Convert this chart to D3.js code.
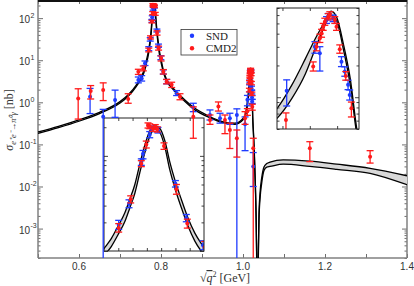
<!DOCTYPE html>
<meta charset="utf-8">
<style>
  body {
    margin: 0;
    background: #fff;
  }

  .serif {
    font-family: "Liberation Serif", "Times New Roman", serif;
  }
</style>

<body>

  <script src="https://d3js.org/d3.v7.min.js"></script>

  <script>

    // theory band: energy (GeV), lower and upper edge (nb)
    var bandE = [0.50, 0.55, 0.60, 0.65, 0.70, 0.72, 0.74, 0.75, 0.76,
      0.7655, 0.7676, 0.7699, 0.7723, 0.774, 0.7758, 0.7775, 0.7793, 0.781, 0.7828,
      0.7845, 0.7863, 0.788, 0.7898, 0.7921, 0.7944, 0.7968, 0.7997,
      0.806, 0.814, 0.826, 0.838, 0.85, 0.88, 0.92, 0.95, 0.98, 1.0, 1.005,
      1.009, 1.0117, 1.0142, 1.016, 1.0175, 1.0189, 1.0199, 1.0212, 1.0224, 1.0236,
      1.0255, 1.028, 1.03, 1.032, 1.0334, 1.0354, 1.0373, 1.039, 1.0415, 1.0456,
      1.0512, 1.058, 1.066, 1.098, 1.163, 1.2285, 1.31, 1.4];
    var bandLo = [0.183, 0.25, 0.355, 0.54, 0.96, 1.39, 2.4, 3.4, 5.6,
      9.3, 11.2, 14.8, 20.4, 28.2, 40.5, 66, 108, 160, 194,
      177, 124, 72, 46, 28.4, 18.3, 12.7, 9.3,
      5.1, 3.15, 2.2, 1.63, 1.25, 0.69, 0.425, 0.33, 0.30, 0.385, 0.46,
      0.63, 0.97, 1.67, 2.88, 4.46, 5.97, 5.3, 2.75, 1.3, 0.44,
      0.17, 0.044, 0.0105, 0.0017, 0.00017, 0.00001, 0.00017, 0.0016, 0.005, 0.012,
      0.024, 0.029, 0.030, 0.034, 0.030, 0.0256, 0.0206, 0.011];
    var bandHi = [0.197, 0.27, 0.385, 0.58, 1.04, 1.51, 2.6, 3.8, 6.4,
      11.1, 13.6, 18.2, 25.2, 34.8, 50, 81, 130, 182, 208,
      195, 144, 87, 56, 34.6, 22.2, 15.4, 11.2,
      5.7, 3.45, 2.4, 1.77, 1.35, 0.75, 0.455, 0.35, 0.32, 0.415, 0.5,
      0.78, 1.30, 2.32, 3.58, 4.97, 6.52, 5.75, 3.1, 1.5, 0.5,
      0.2, 0.052, 0.013, 0.0021, 0.00021, 0.00001, 0.00022, 0.0023, 0.007, 0.016,
      0.029, 0.035, 0.038, 0.043, 0.040, 0.034, 0.027, 0.018];

    // SND points: energy, value, error bar low / high
    var sndE = [0.627, 0.659, 0.688, 0.7447, 0.7529, 0.761, 0.77014, 0.77375, 0.77806, 0.77865,
      0.781, 0.78156, 0.7839, 0.79, 0.7938, 0.79965, 0.8057, 0.8139, 0.838, 0.8788,
      0.9195, 0.944, 0.968, 0.985, 1.005, 1.01077, 1.01593, 1.01684, 1.01806, 1.01837,
      1.01926, 1.02079, 1.0214, 1.022, 1.0223, 1.025];
    var sndV = [1.36, 0.455, 1.13, 3.4, 3.7, 8.5, 18.9, 31.4, 86, 105,
      167, 193, 186, 51, 22.2, 11.5, 5.3, 3.1, 1.65, 0.76,
      0.5, 0.42, 0.42, 0.5, 0.3, 1.15, 3.01, 2.61, 5.38, 5.79,
      5.59, 2.17, 1.75, 1.31, 1.05, 0.0297];
    var sndLo = [0.54, 1e-6, 0.44, 2.9, 3.2, 7.5, 16.9, 28.5, 79.5, 93,
      155, 180, 174, 47, 20.3, 10.3, 4.7, 2.75, 1.45, 0.6,
      0.38, 0.32, 0.3, 1e-6, 0.071, 0.826, 2.61, 1.77, 5.0, 5.4,
      5.2, 1.95, 1.58, 1.18, 0.94, 0.01];
    var sndHi = [2.14, 0.68, 1.95, 4.0, 4.3, 9.6, 21.0, 34.5, 93, 114,
      180, 206, 199, 55, 24.2, 12.8, 5.9, 3.5, 1.9, 0.95,
      0.66, 0.55, 0.55, 0.7, 0.45, 1.46, 3.36, 3.01, 5.8, 6.2,
      6.0, 2.42, 1.94, 1.45, 1.17, 0.064];

    // CMD2 points
    var cmdE = [0.598, 0.6285, 0.659, 0.72, 0.7447, 0.7568, 0.77014, 0.77434, 0.77806, 0.7798,
      0.7804, 0.781, 0.78215, 0.78296, 0.78366, 0.786, 0.79035, 0.79416, 0.80025, 0.8057,
      0.8139, 0.826, 0.8463, 0.8788, 0.9195, 0.94, 0.956, 0.968, 0.985, 1.005,
      1.01064, 1.01562, 1.01623, 1.01684, 1.01715, 1.01745, 1.01775, 1.01837, 1.01866, 1.01957,
      1.01988, 1.02048, 1.02158, 1.02261, 1.025, 1.163, 1.31];
    var cmdV = [1.24, 1.86, 1.96, 1.2, 5.3, 6.4, 17.5, 34.9, 82.8, 132,
      209, 205, 193, 201, 190, 127, 44.6, 19.4, 11, 5.3,
      3.1, 2.6, 1.36, 0.455, 0.38, 0.8, 0.38, 0.22, 0.14, 0.42,
      0.61, 1.95, 3.01, 3.61, 4.03, 4.65, 5.19, 5.79, 6.01, 5.38,
      4.65, 2.84, 1.59, 0.785, 0.081, 0.081, 0.051];
    var cmdLo = [0.40, 1.2, 1.1, 0.95, 4.6, 5.6, 15.8, 32, 77, 121,
      196, 193, 181, 189, 178, 117, 39.5, 17.4, 9.6, 4.7,
      2.75, 2.25, 1.15, 0.14, 0.3, 0.62, 0.18, 0.08, 0.05, 0.3,
      0.49, 1.77, 2.75, 3.3, 3.7, 4.3, 4.8, 5.4, 5.6, 5.0,
      4.3, 2.61, 1.45, 0.65, 1e-6, 0.039, 0.036];
    var cmdHi = [2.1, 2.5, 2.9, 1.6, 6.1, 7.3, 19.4, 38, 89, 143,
      222, 217, 205, 213, 202, 137, 50, 21.6, 12.6, 6.0,
      3.5, 3.0, 1.6, 0.78, 0.5, 1.02, 0.5, 0.32, 0.22, 0.6,
      0.71, 2.16, 3.3, 3.95, 4.4, 5.0, 5.6, 6.2, 6.45, 5.8,
      5.0, 3.13, 1.75, 0.90, 0.14, 0.116, 0.071];

    // ticks
    var xTicks = [0.5, 0.6, 0.7, 0.8, 0.9, 1.0, 1.1, 1.2, 1.3, 1.4];
    var xLabels = ["0.6", "0.8", "1.0", "1.2", "1.4"];
    var yExp = [-3, -2, -1, 0, 1, 2];
    var inset1XTicks = [0.77, 0.775, 0.78, 0.785, 0.79, 0.795];
    var inset2XTicks = [1.01, 1.015, 1.02];

    var width = 414, height = 286;

    var svg = d3.select("body")
      .append("svg")
      .attr("width", width)
      .attr("height", height);
    var defs = svg.append("defs");

    var x = d3.scaleLinear().domain([0.5, 1.4]).range([38, 407]);
    var y = d3.scaleLog().domain([2e-4, 270]).range([258, 0]);

    // all 1..9 x 10^n values inside a log domain
    function logTicks(dom, major) {
      var out = [];
      for (var n = -5; n <= 3; n++) {
        for (var k = 1; k <= 9; k++) {
          var v = k * Math.pow(10, n);
          if (v >= dom[0] * 0.999 && v <= dom[1] * 1.001 && ((k === 1) === major)) out.push(v);
        }
      }
      return out;
    }

    function frame(g, xs, ys, xt, majLen, minLen, col) {
      var r = xs.range(), h = ys.range();
      var yMaj = logTicks(ys.domain(), true), yMin = logTicks(ys.domain(), false);
      g.append("g").attr("transform", "translate(0," + h[0] + ")").attr("color", col)
        .call(d3.axisBottom(xs).tickValues(xt).tickSize(-majLen + 1).tickFormat(""))
        .select(".domain").remove();
      g.append("g").attr("transform", "translate(0," + h[1] + ")").attr("color", col)
        .call(d3.axisTop(xs).tickValues(xt).tickSize(-majLen + 1).tickFormat(""))
        .select(".domain").remove();
      [[yMaj, majLen], [yMin, minLen]].forEach(function (t) {
        g.append("g").attr("transform", "translate(" + r[0] + ",0)").attr("color", col)
          .call(d3.axisLeft(ys).tickValues(t[0]).tickSize(-t[1]).tickFormat(""))
          .select(".domain").remove();
        g.append("g").attr("transform", "translate(" + r[1] + ",0)").attr("color", col)
          .call(d3.axisRight(ys).tickValues(t[0]).tickSize(-t[1]).tickFormat(""))
          .select(".domain").remove();
      });
    }

    function clipped(g, xs, ys, id) {
      var r = xs.range(), h = ys.range();
      defs.append("clipPath").attr("id", id)
        .append("rect")
        .attr("x", r[0]).attr("y", h[1])
        .attr("width", r[1] - r[0]).attr("height", h[0] - h[1]);
      return g.append("g").attr("clip-path", "url(#" + id + ")");
    }

    function drawBand(g, xs, ys) {
      var pts = bandE.map(function (e, i) { return { e: e, lo: bandLo[i], hi: bandHi[i] }; });
      g.append("path").datum(pts)
        .attr("fill", "#d8d8d8")
        .attr("d", d3.area().curve(d3.curveMonotoneX)
          .x(function (d) { return xs(d.e); })
          .y0(function (d) { return ys(d.lo); })
          .y1(function (d) { return ys(d.hi); }));
      ["lo", "hi"].forEach(function (k) {
        g.append("path").datum(pts)
          .attr("fill", "none")
          .attr("stroke", "#000")
          .attr("stroke-width", 1.3)
          .attr("d", d3.line().curve(d3.curveMonotoneX)
            .x(function (d) { return xs(d.e); })
            .y(function (d) { return ys(d[k]); }));
      });
    }

    function drawPoints(g, xs, ys, E, V, Lo, Hi, color) {
      var pts = E.map(function (e, i) { return { e: e, v: V[i], lo: Lo[i], hi: Hi[i] }; });
      var p = g.append("g").selectAll("g").data(pts).enter().append("g")
        .attr("stroke", color).attr("stroke-width", 1.3).attr("fill", color);
      p.append("line")
        .attr("x1", function (d) { return xs(d.e); })
        .attr("x2", function (d) { return xs(d.e); })
        .attr("y1", function (d) { return ys(d.lo); })
        .attr("y2", function (d) { return ys(d.hi); });
      ["lo", "hi"].forEach(function (k) {
        p.append("line")
          .attr("x1", function (d) { return xs(d.e) - 3.5; })
          .attr("x2", function (d) { return xs(d.e) + 3.5; })
          .attr("y1", function (d) { return ys(d[k]); })
          .attr("y2", function (d) { return ys(d[k]); });
      });
      p.append("circle")
        .attr("cx", function (d) { return xs(d.e); })
        .attr("cy", function (d) { return ys(d.v); })
        .attr("r", 2).attr("stroke", "none");
    }

    function content(g, xs, ys) {
      drawBand(g, xs, ys);
      drawPoints(g, xs, ys, sndE, sndV, sndLo, sndHi, "#1f3bff");
      drawPoints(g, xs, ys, cmdE, cmdV, cmdLo, cmdHi, "#ff1a1a");
    }

    // main frame and axes
    frame(svg, x, y, xTicks, 5, 2.5, "#6e6e6e");
    svg.append("line").attr("x1", 38).attr("x2", 38).attr("y1", 0).attr("y2", 258)
      .attr("stroke", "#808080").attr("stroke-width", 1.5);
    svg.append("line").attr("x1", 407).attr("x2", 407).attr("y1", 0).attr("y2", 258)
      .attr("stroke", "#808080").attr("stroke-width", 1.5);
    svg.append("line").attr("x1", 38).attr("x2", 407).attr("y1", 258).attr("y2", 258)
      .attr("stroke", "#808080").attr("stroke-width", 1.5);
    svg.append("line").attr("x1", 38).attr("x2", 407).attr("y1", 1).attr("y2", 1)
      .attr("stroke", "#111").attr("stroke-width", 2);

    // x tick labels
    svg.append("g").selectAll("text").data(xLabels).enter().append("text")
      .attr("x", function (d) { return x(+d); })
      .attr("y", 269.5)
      .attr("text-anchor", "middle")
      .style("font", "10px 'Liberation Sans', Arial, sans-serif")
      .style("fill", "#333")
      .text(function (d) { return d; });

    // y tick labels 10^n
    svg.append("g").selectAll("text").data(yExp).enter().append("text")
      .attr("x", 30)
      .attr("y", function (d) { return y(Math.pow(10, d)) + 5; })
      .attr("text-anchor", "end")
      .style("font", "10px 'Liberation Sans', Arial, sans-serif")
      .style("fill", "#333")
      .text("10");
    svg.append("g").selectAll("text").data(yExp).enter().append("text")
      .attr("x", 30.5)
      .attr("y", function (d) { return y(Math.pow(10, d)) - 0.5; })
      .style("font", "7px 'Liberation Sans', Arial, sans-serif")
      .style("fill", "#333")
      .text(function (d) { return d; });

    // axis titles
    var xt = svg.append("text").attr("class", "serif")
      .attr("x", 225).attr("y", 282)
      .attr("text-anchor", "middle")
      .style("font-size", "12px").style("fill", "#333");
    xt.append("tspan").text("√");
    xt.append("tspan").style("font-style", "italic").style("text-decoration", "overline").text("q");
    xt.append("tspan").attr("dy", -5).style("font-size", "8px").text("2");
    xt.append("tspan").attr("dy", 5).text(" [GeV]");

    var yt = svg.append("text").attr("class", "serif")
      .attr("transform", "translate(13,120) rotate(-90)")
      .attr("text-anchor", "middle")
      .style("font-size", "12px").style("fill", "#333");
    yt.append("tspan").style("font-style", "italic").text("σ");
    yt.append("tspan").attr("dy", 3).style("font-size", "8.5px").style("font-style", "italic").text("e⁺e⁻→π⁰γ");
    yt.append("tspan").attr("dy", -3).text(" [nb]");

    // inset around the omega peak
    var x1 = d3.scaleLinear().domain([0.765, 0.80]).range([104, 204]);
    var y1 = d3.scaleLog().domain([10, 250]).range([251, 118]);
    // inset around the phi peak
    var x2 = d3.scaleLinear().domain([1.009, 1.024]).range([277, 359]);
    var y2 = d3.scaleLog().domain([0.5, 7]).range([129, 8]);

    [[x1, y1, inset1XTicks, "c1"], [x2, y2, inset2XTicks, "c2"]].forEach(function (s) {
      var r = s[0].range(), h = s[1].range();
      var g = svg.append("g");
      g.append("rect")
        .attr("x", r[0]).attr("y", h[1])
        .attr("width", r[1] - r[0]).attr("height", h[0] - h[1])
        .attr("fill", "#fff");
      content(clipped(g, s[0], s[1], s[3]), s[0], s[1]);
      frame(g, s[0], s[1], s[2], 4, 2.5, "#444");
      g.append("rect")
        .attr("x", r[0]).attr("y", h[1])
        .attr("width", r[1] - r[0]).attr("height", h[0] - h[1])
        .attr("fill", "none").attr("stroke", "#222").attr("stroke-width", 1);
    });

    // main curve and data, drawn over the insets
    content(clipped(svg.append("g"), x, y, "c0"), x, y);

    // legend
    var lg = svg.append("g");
    lg.append("rect").attr("x", 181).attr("y", 29.5).attr("width", 56).attr("height", 25.5)
      .attr("fill", "#fff").attr("stroke", "#333").attr("stroke-width", 0.8);
    [["SND", "#1f3bff"], ["CMD2", "#ff1a1a"]].forEach(function (d, i) {
      lg.append("circle").attr("cx", 192).attr("cy", 35.7 + i * 12.5).attr("r", 2.2).attr("fill", d[1]);
      lg.append("text").attr("class", "serif")
        .attr("x", 206).attr("y", 39.5 + i * 12.5)
        .style("font-size", "11px").style("fill", "#222")
        .text(d[0]);
    });

  </script>
</body>
